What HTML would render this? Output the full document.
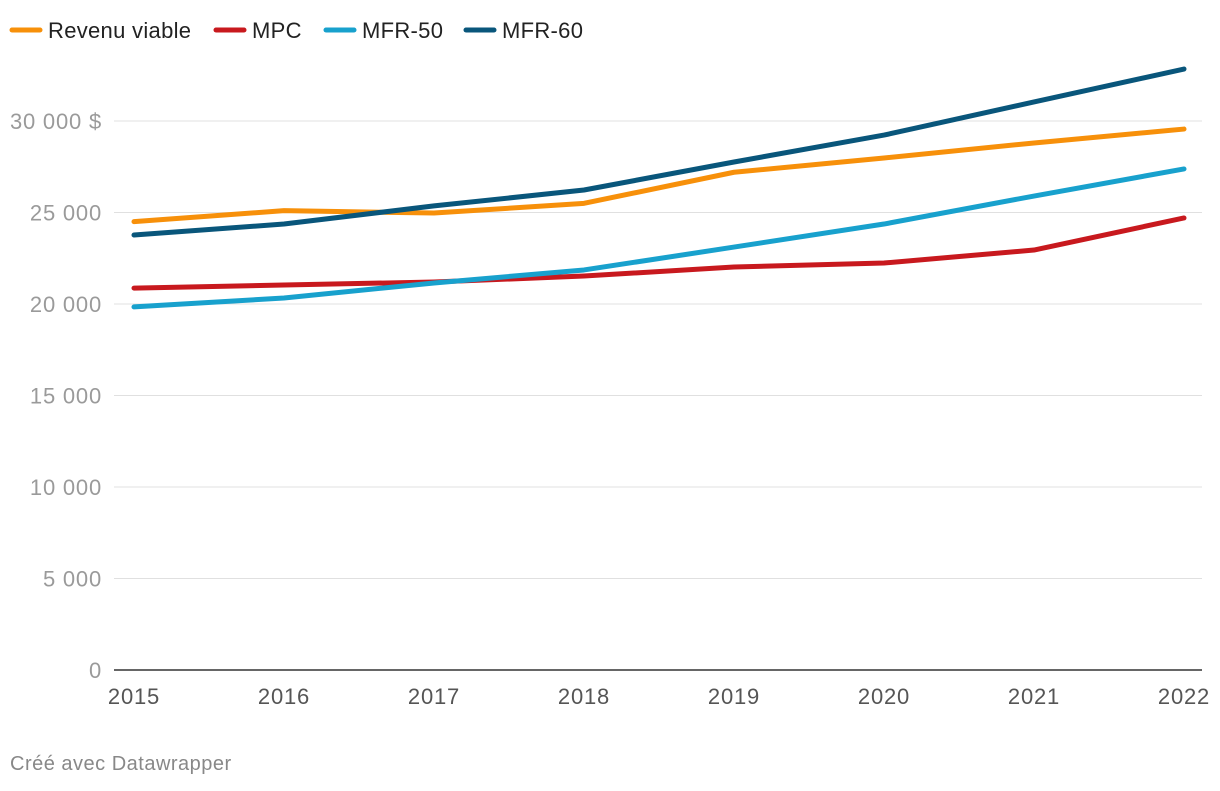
<!DOCTYPE html>
<html><head><meta charset="utf-8"><style>
body{margin:0;background:#fff;width:1220px;height:786px;overflow:hidden;font-family:"Liberation Sans",sans-serif}
</style></head><body>
<svg id="chart" width="1220" height="786" xmlns="http://www.w3.org/2000/svg" font-family="Liberation Sans, sans-serif"></svg>
<script>
const years=[2015,2016,2017,2018,2019,2020,2021,2022];
const revenuViable=[24500,25100,24970,25500,27200,27980,28800,29560];
const mpc=[20870,21040,21200,21530,22020,22240,22950,24700];
const mfr50=[19840,20330,21150,21860,23110,24370,25900,27380];
const mfr60=[23770,24370,25360,26230,27760,29230,31040,32840];
const yTicks=[0,5000,10000,15000,20000,25000,30000];
const yTickLabels=["0","5 000","10 000","15 000","20 000","25 000","30 000 $"];
const seriesNames=["Revenu viable","MPC","MFR-50","MFR-60"];
const NS="http://www.w3.org/2000/svg";
const svg=document.getElementById('chart');
const x=i=>134+i*150;
const y=v=>670-v*549/30000;
function el(t,a,p){const e=document.createElementNS(NS,t);for(const k in a)e.setAttribute(k,a[k]);(p||svg).appendChild(e);return e;}
yTicks.forEach((v,i)=>{
  if(v>0){const g=el('line',{x1:114,x2:1202,y1:y(v),y2:y(v),stroke:'#e0e0e0','stroke-width':1});
  
  }
  const t=el('text',{x:102,y:y(v)+8,'text-anchor':'end','font-size':22,'letter-spacing':0.8,fill:'#9a9a9a'});
  t.textContent=yTickLabels[i];
  
  
});
const ax=el('line',{x1:114,x2:1202,y1:670,y2:670,stroke:'#333','stroke-width':1.5});


years.forEach((yr,i)=>{
  const t=el('text',{x:x(i),y:704,'text-anchor':'middle','font-size':22,'letter-spacing':0.8,fill:'#555'});
  t.textContent=yr;
  
  
});
const colors=['#f7900a','#c8191e','#18a1cd','#09567b'];
[revenuViable,mpc,mfr50,mfr60].forEach((s,k)=>{
  const p=el('polyline',{points:s.map((v,i)=>x(i)+','+y(v)).join(' '),fill:'none',stroke:colors[k],'stroke-width':5,'stroke-linejoin':'round','stroke-linecap':'round'});
  
  
});
const legendX=[12,216,326,466];
seriesNames.forEach((n,k)=>{
  const g=el('g',{});
  
  
  el('line',{x1:legendX[k],x2:legendX[k]+28,y1:30,y2:30,stroke:colors[k],'stroke-width':5,'stroke-linecap':'round'},g);
  const t=el('text',{x:legendX[k]+36,y:38,'font-size':22,'letter-spacing':0.3,fill:'#222'},g);
  t.textContent=n;
});
const f=el('text',{x:10,y:770,'font-size':20,'letter-spacing':0.5,fill:'#888'});
f.textContent='Créé avec Datawrapper';


</script>
</body></html>
